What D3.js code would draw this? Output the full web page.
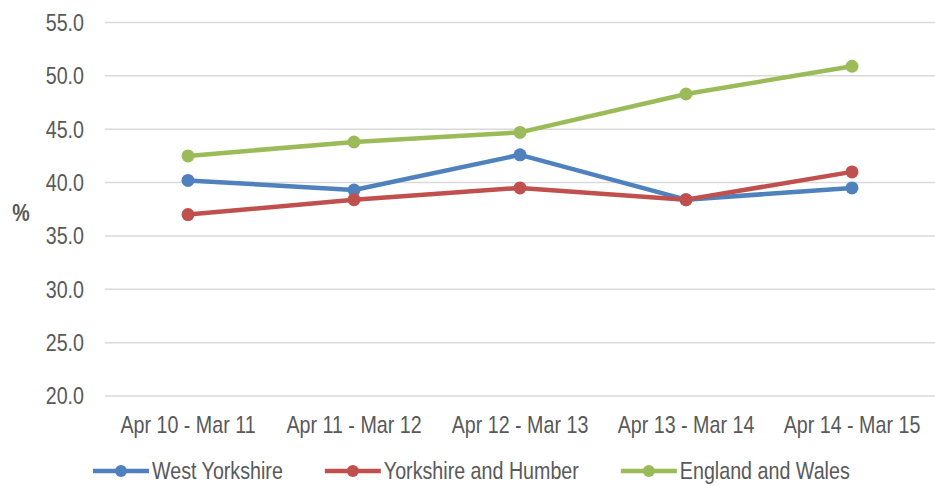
<!DOCTYPE html>
<html>
<head>
<meta charset="utf-8">
<script src="https://cdn.jsdelivr.net/npm/d3@7"></script>
<style>
  body { margin: 0; background: #fff; }
  text { font-family: "Liberation Sans Narrow", "Liberation Sans", Arial, sans-serif; fill: #595959; }
</style>
</head>
<body>
<div id="chart"></div>
<script>
'use strict';

var periods = ['Apr 10 - Mar 11', 'Apr 11 - Mar 12', 'Apr 12 - Mar 13', 'Apr 13 - Mar 14', 'Apr 14 - Mar 15'];
var westYorkshire = [40.2, 39.3, 42.6, 38.4, 39.5];
var yorkshireHumber = [37.0, 38.4, 39.5, 38.4, 41.0];
var englandWales = [42.5, 43.8, 44.7, 48.3, 50.9];
var yTicks = [20, 25, 30, 35, 40, 45, 50, 55];

var series = [
    { name: 'West Yorkshire', values: westYorkshire, color: '#4F81BD' },
    { name: 'Yorkshire and Humber', values: yorkshireHumber, color: '#C0504D' },
    { name: 'England and Wales', values: englandWales, color: '#9BBB59' }
];

var width = 935, height = 486;
var margin = { top: 22.5, right: 0, bottom: 90, left: 105 };
var fontSize = 24;
var narrow = 0.82; // squeeze Liberation Sans to look like Arial Narrow

var svg = d3.select('#chart').append('svg')
    .attr('width', width)
    .attr('height', height);

var x = d3.scalePoint().domain(periods).range([margin.left, width - margin.right]).padding(0.5);
var y = d3.scaleLinear().domain([20, 55]).range([height - margin.bottom, margin.top]);

var place = function(px, py) {
    return 'translate(' + px + ',' + py + ') scale(' + narrow + ',1)';
};

// gridlines
svg.append('g')
    .selectAll('line')
    .data(yTicks)
    .enter().append('line')
    .attr('x1', margin.left)
    .attr('x2', width - margin.right)
    .attr('y1', function(d) { return y(d); })
    .attr('y2', function(d) { return y(d); })
    .style('stroke', '#d9d9d9')
    .style('stroke-width', 1.5);

// y labels
svg.append('g')
    .selectAll('text')
    .data(yTicks)
    .enter().append('text')
    .attr('transform', function(d) { return place(84, y(d)); })
    .attr('dy', '0.35em')
    .attr('text-anchor', 'end')
    .style('font-size', fontSize + 'px')
    .text(function(d) { return d3.format('.1f')(d); });

svg.append('text')
    .attr('transform', place(21, 213))
    .attr('dy', '0.35em')
    .attr('text-anchor', 'middle')
    .style('font-size', '24px')
    .style('font-weight', 'bold')
    .text('%');

// x labels
svg.append('g')
    .selectAll('text')
    .data(periods)
    .enter().append('text')
    .attr('transform', function(d) { return place(x(d), 425); })
    .attr('dy', '0.35em')
    .attr('text-anchor', 'middle')
    .style('font-size', fontSize + 'px')
    .text(function(d) { return d; });

var line = d3.line()
    .x(function(d, i) { return x(periods[i]); })
    .y(function(d) { return y(d); });

var groups = svg.selectAll('.series')
    .data(series)
    .enter().append('g')
    .attr('class', 'series');

groups.append('path')
    .attr('d', function(d) { return line(d.values); })
    .style('fill', 'none')
    .style('stroke', function(d) { return d.color; })
    .style('stroke-width', 4.5)
    .style('stroke-linejoin', 'round');

groups.selectAll('circle')
    .data(function(d) { return d.values.map(function(v, i) { return { v: v, i: i, color: d.color }; }); })
    .enter().append('circle')
    .attr('cx', function(d) { return x(periods[d.i]); })
    .attr('cy', function(d) { return y(d.v); })
    .attr('r', 6.5)
    .style('fill', function(d) { return d.color; });

// legend
var legendY = 471;
var lx = 93;
series.forEach(function(s) {
    var g = svg.append('g').attr('transform', 'translate(' + lx + ',' + legendY + ')');
    g.append('line')
        .attr('x1', 0).attr('x2', 56)
        .style('stroke', s.color)
        .style('stroke-width', 4.5);
    g.append('circle')
        .attr('cx', 28).attr('r', 6)
        .style('fill', s.color);
    var t = g.append('text')
        .attr('transform', place(59, 0))
        .attr('dy', '0.35em')
        .style('font-size', fontSize + 'px')
        .text(s.name);
    lx += 59 + t.node().getComputedTextLength() * narrow + 42;
});
</script>
</body>
</html>
